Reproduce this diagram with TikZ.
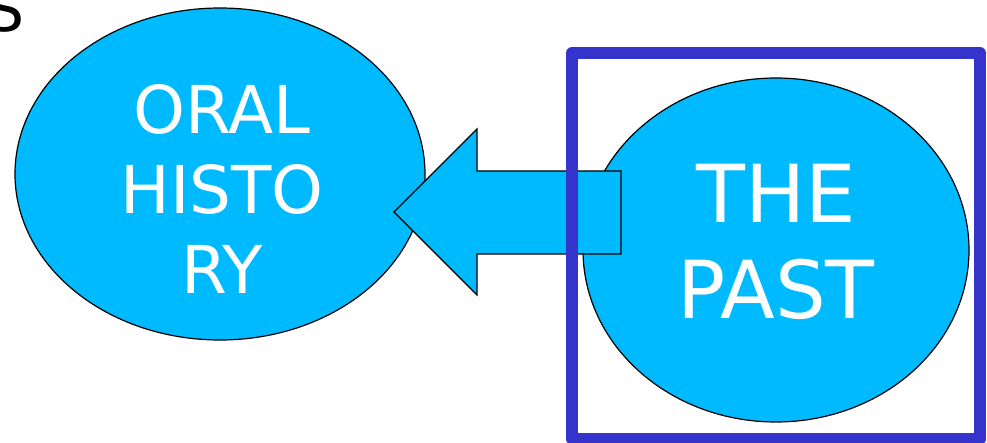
\documentclass[tikz,border=0pt]{standalone}
\usepackage{fontspec}
\setmainfont{DejaVu Sans}
\usetikzlibrary{shapes.geometric,positioning}
\definecolor{skyfill}{RGB}{0,186,255}
\definecolor{framblue}{RGB}{52,52,204}
\tikzset{
  blob/.style={draw,ellipse,fill=skyfill,line width=1.2pt,inner sep=0pt},
  blobtext/.style={text=white,align=center,inner sep=0pt},
  bigarrow/.style={draw,fill=skyfill,line width=1.2pt,line join=miter}
}

\begin{document}
\begin{tikzpicture}[x=1pt,y=-1pt]
  \useasboundingbox (0,0) rectangle (987,443);
  % corner of the heading, cut off by the page edge
  \node[anchor=base east,inner sep=0pt,font=\fontsize{60}{72}\selectfont] (head) at (25,32) {S};
  % the two bubbles
  \node[blob,minimum width=410pt,minimum height=332pt] (oral) at (220,174) {};
  \node[blob,minimum width=386pt,minimum height=344pt] (past) at (776,250) {};
  \node[blobtext,font=\fontsize{66}{80}\selectfont] (oraltxt) at ([xshift=2pt,yshift=-15pt]oral.center) {ORAL\\HISTO\\RY};
  \node[blobtext,font=\fontsize{80}{96}\selectfont] (pasttxt) at ([yshift=8pt]past.center) {THE\\PAST};
  % block arrow from the past to oral history
  \coordinate (tip) at (394,212);
  \draw[bigarrow] (tip) -- (477,129) -- (477,171) -- (621,171) -- (621,254)
    -- (477,254) -- (477,295) -- cycle;
  % frame round the past
  \draw[framblue,line width=12pt,line join=round] (572,53) rectangle (980,439);
\end{tikzpicture}
\end{document}
